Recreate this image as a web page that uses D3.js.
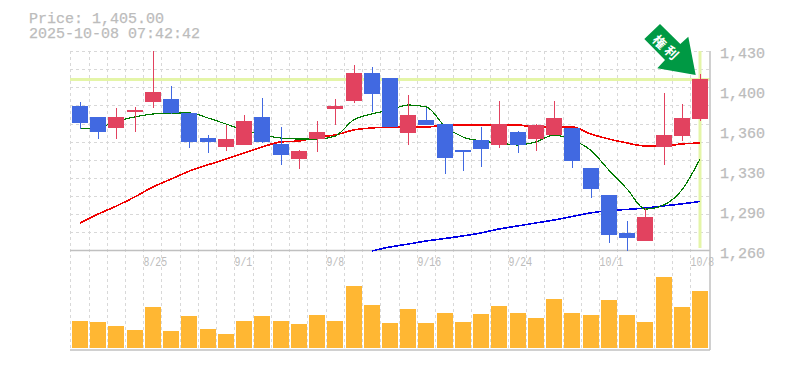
<!DOCTYPE html>
<html>
<head>
<meta charset="utf-8">
<script src="https://cdn.jsdelivr.net/npm/d3@7"></script>
<style>
  html, body { margin: 0; padding: 0; background: #fff; }
  text { font-family: "Liberation Mono", monospace; fill: #bcbcbc; stroke: #bcbcbc; stroke-width: 0.25; }
</style>
</head>
<body>
<div id="chart"></div>
<script>
// Data
const dates = ["8/19","8/20","8/21","8/22","8/25","8/26","8/27","8/28","8/29","9/1","9/2","9/3","9/4","9/5","9/8","9/9","9/10","9/11","9/12","9/16","9/17","9/18","9/19","9/22","9/24","9/25","9/26","9/29","9/30","10/1","10/2","10/3","10/6","10/7","10/8"];
const opens = [1383.1,1373.8,1364.4,1378,1386.5,1389.1,1377.2,1355.9,1348.2,1349.9,1373.8,1350.8,1338,1355,1380.6,1387.4,1411.3,1407,1360.1,1371.2,1367.8,1345.6,1354.2,1349.9,1361,1355,1358.4,1364.4,1330.3,1307.3,1274.9,1268.1,1348.2,1357.6,1372.1];
const highs = [1386.5,1373.8,1381.4,1382.3,1430,1400.2,1377.2,1358.4,1366.9,1375.5,1390,1365.2,1345.6,1370.4,1389.1,1418.1,1416.4,1407,1392.5,1381.4,1367.8,1345.6,1365.2,1387.4,1361.8,1367.8,1387.4,1364.4,1330.3,1307.3,1285.1,1296.2,1394.2,1384.8,1410.4];
const lows = [1363.5,1355,1355,1361,1381.4,1376.3,1347.3,1343.1,1344.8,1349.9,1351.6,1332.9,1329.5,1343.9,1366.9,1385.7,1378,1365.2,1349.9,1366.9,1325.2,1327.7,1331.2,1347.3,1343.1,1344.8,1358.4,1330.3,1304.7,1266.4,1260,1268.1,1332.9,1353.3,1370.4];
const closes = [1368.6,1361,1373.8,1379.7,1395.1,1377.2,1352.5,1352.5,1355,1370.4,1352.5,1341.4,1344.8,1361,1383.1,1411.3,1393.4,1365.2,1375.5,1366.9,1338.8,1343.9,1346.5,1367.8,1349.9,1366.9,1372.9,1336.3,1312.4,1273.2,1270.7,1288.6,1358.4,1372.9,1406.1];
const volumes = [27,26,22,18,41,17,32,19,14,27,32,27,24,33,27,62,43,25,39,25,35,26,34,42,35,30,49,35,33,48,33,26,71,41,57];

const maShort = [1363.9,1364.7,1370,1373.8,1376.3,1377.2,1377.2,1373,1367.8,1362.7,1358.4,1355.9,1355,1355,1357.6,1371.2,1376.3,1379.7,1384,1382.3,1366.1,1356.7,1353.3,1351.6,1349.9,1352.5,1358.4,1354.2,1345.6,1328.6,1312.4,1295.3,1298.7,1311.5,1337.9];
const maMid = [1283.4,1291.1,1297.9,1305.6,1314.1,1320.9,1327.7,1332.9,1338,1343.1,1348.2,1352.5,1353.3,1356.7,1358.4,1362.7,1364.4,1365.2,1365.2,1365.2,1366.9,1366.9,1366.9,1366.9,1366.9,1365.2,1365.2,1365.2,1359.3,1355,1351.6,1349.1,1349.1,1350.8,1351.6];
const maLong = [null,null,null,null,null,null,null,null,null,null,null,null,null,null,null,null,1259.6,1263,1265.5,1268.1,1270.2,1272.4,1275,1278.4,1280.9,1283.5,1286,1289,1292,1294.1,1295,1296.2,1298,1299.7,1301.8];

const priceTicks = [1430,1400,1360,1330,1290,1260];
const priceTickLabels = ["1,430","1,400","1,360","1,330","1,290","1,260"];
const dateTicks = ["8/25","9/1","9/8","9/16","9/24","10/1","10/8"];
const currentPrice = 1405.8;
const titleLines = ["Price: 1,405.00", "2025-10-08 07:42:42"];
const badgeText = ["権", "利"];

const width = 785, height = 370;
const plotTop = 51, priceBottom = 250.5, volBottom = 350, volBase = 348, plotRight = 710, plotLeft = 70;

const svg = d3.select("#chart").append("svg")
    .attr("width", width)
    .attr("height", height)
    .style("display", "block");

// Scales
const x = d3.scalePoint().domain(d3.range(dates.length)).range([80, 700]);
const gridX = i => Math.round(x(i) - 9.7) + 0.5;
const y = d3.scaleLinear().domain([1430, 1260]).range([plotTop, priceBottom]);
const yVol = d3.scaleLinear().domain([0, 100]).range([volBase, volBase - 100]);

// Tick y positions are evenly spaced, the labels are rounded in the source
const tickY = d3.scalePoint().domain(priceTicks).range([53, 253]);

// Title
svg.selectAll(".title")
    .data(titleLines)
    .enter()
    .append("text")
    .attr("class", "title")
    .attr("x", 29)
    .attr("y", (d, i) => 23 + i * 15)
    .attr("font-size", 15)
    .text(d => d);

// Grid
const hGrid = d3.range(11).map(i => Math.round(plotTop + i * (priceBottom - plotTop) / 11) + 0.5);
svg.selectAll(".h-grid")
    .data(hGrid)
    .enter()
    .append("line")
    .attr("class", "h-grid")
    .attr("x1", plotLeft)
    .attr("x2", plotRight)
    .attr("y1", d => d)
    .attr("y2", d => d)
    .attr("stroke", "#d8d8d8")
    .attr("stroke-dasharray", "3,3");

svg.selectAll(".v-grid")
    .data(d3.range(dates.length))
    .enter()
    .append("line")
    .attr("class", "v-grid")
    .attr("x1", gridX)
    .attr("x2", gridX)
    .attr("y1", plotTop)
    .attr("y2", volBottom)
    .attr("stroke", "#d8d8d8")
    .attr("stroke-dasharray", "3,3");

// Current price markers
svg.append("line")
    .attr("x1", plotLeft).attr("x2", plotRight)
    .attr("y1", y(currentPrice)).attr("y2", y(currentPrice))
    .attr("stroke", "#e4f5a8")
    .attr("stroke-width", 3);

svg.append("line")
    .attr("x1", x(34)).attr("x2", x(34))
    .attr("y1", plotTop).attr("y2", 248)
    .attr("stroke", "#e4f5a8")
    .attr("stroke-width", 3);

// Frame
const frame = [[plotLeft, priceBottom, plotRight, priceBottom], [plotLeft, volBottom, plotRight, volBottom], [plotRight, plotTop, plotRight, volBottom]];
svg.selectAll(".frame")
    .data(frame)
    .enter()
    .append("line")
    .attr("class", "frame")
    .attr("x1", d => d[0]).attr("y1", d => d[1])
    .attr("x2", d => d[2]).attr("y2", d => d[3])
    .attr("stroke", "#c0c0c0")
    .attr("stroke-width", 1.5);

// Volume
svg.selectAll(".vol")
    .data(volumes)
    .enter()
    .append("rect")
    .attr("class", "vol")
    .attr("x", (d, i) => Math.round(x(i)) - 8)
    .attr("y", d => yVol(d))
    .attr("width", 16)
    .attr("height", d => volBase - yVol(d))
    .attr("fill", "#ffb733");

// Moving averages
const lineFor = d3.line()
    .defined(d => d !== null)
    .curve(d3.curveMonotoneX)
    .x((d, i) => x(i))
    .y(d => y(d));

[[maLong, "#0000e6", 1.6], [maMid, "#f00000", 1.6], [maShort, "#007a00", 1.2]].forEach(([values, color, w]) => {
    svg.append("path")
        .attr("d", lineFor(values))
        .attr("fill", "none")
        .attr("stroke", color)
        .attr("stroke-width", w)
        .attr("shape-rendering", "crispEdges");
});

// Candles
const candleColor = i => closes[i] >= opens[i] ? "#e2425f" : "#4169e1";
const candles = svg.selectAll(".candle")
    .data(d3.range(dates.length))
    .enter()
    .append("g")
    .attr("class", "candle");

candles.append("line")
    .attr("x1", i => Math.round(x(i)) + 0.5)
    .attr("x2", i => Math.round(x(i)) + 0.5)
    .attr("y1", i => Math.round(y(highs[i])))
    .attr("y2", i => Math.round(y(lows[i])))
    .attr("stroke", candleColor);

candles.append("rect")
    .attr("x", i => Math.round(x(i)) - 8)
    .attr("y", i => Math.round(y(Math.max(opens[i], closes[i]))))
    .attr("width", 16)
    .attr("height", i => Math.round(y(Math.min(opens[i], closes[i]))) - Math.round(y(Math.max(opens[i], closes[i]))))
    .attr("fill", candleColor);

// Price labels
svg.selectAll(".y-label")
    .data(priceTicks)
    .enter()
    .append("text")
    .attr("class", "y-label")
    .attr("x", 720)
    .attr("y", d => tickY(d) + 5)
    .attr("font-size", 15)
    .text((d, i) => priceTickLabels[i]);

// Date labels are tall and narrow in the source
svg.selectAll(".x-label")
    .data(dateTicks)
    .enter()
    .append("text")
    .attr("class", "x-label")
    .attr("x", d => gridX(dates.indexOf(d)))
    .attr("y", 266)
    .attr("font-size", 12)
    .attr("textLength", d => d.length * 5.9)
    .attr("lengthAdjust", "spacingAndGlyphs")
    .style("stroke-width", 0)
    .text(d => d);

// Arrow badge
svg.append("polygon")
    .attr("points", [[660,24],[644.3,39],[665,60],[657.3,68.3],[695.7,75],[688.3,36.7],[680.3,44]].join(" "))
    .attr("fill", "#009944");

svg.selectAll(".badge")
    .data(badgeText)
    .enter()
    .append("text")
    .attr("class", "badge")
    .attr("transform", (d, i) => `translate(${660 + i * 12},${41.5 + i * 10.8}) rotate(45)`)
    .attr("text-anchor", "middle")
    .attr("dominant-baseline", "central")
    .attr("font-size", 13)
    .attr("font-weight", "bold")
    .style("font-family", '"Noto Sans CJK JP"')
    .style("fill", "#fff")
    .style("stroke", "none")
    .text(d => d);
</script>
</body>
</html>
